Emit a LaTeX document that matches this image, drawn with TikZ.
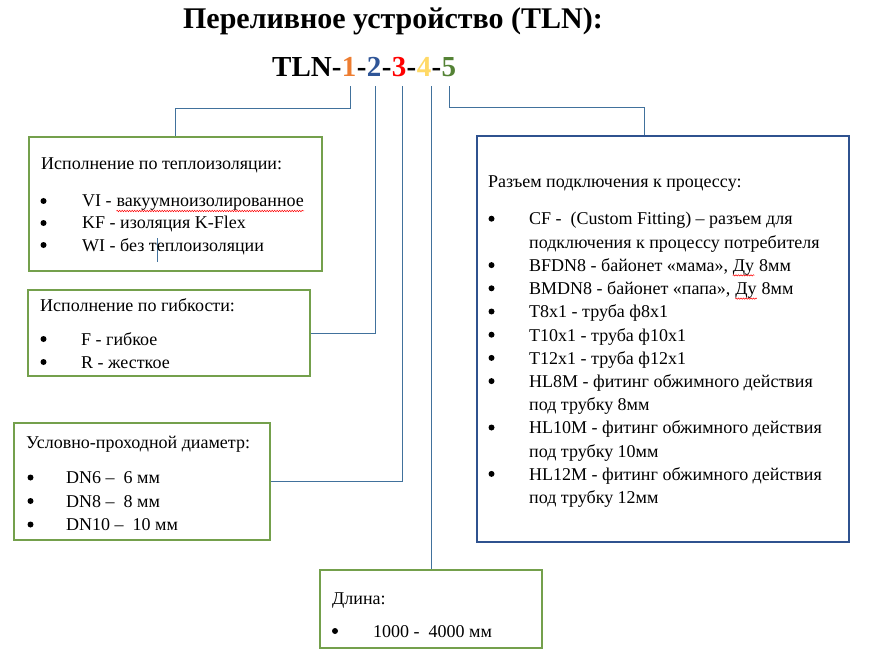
\documentclass[tikz,border=0pt]{standalone}
\usepackage{fontspec}
\setmainfont{Liberation Serif}
\usepackage{xcolor}
\usetikzlibrary{positioning,decorations.pathmorphing}

\definecolor{linkblue}{RGB}{65,113,156}
\definecolor{boxgreen}{RGB}{116,160,76}
\definecolor{boxblue}{RGB}{47,82,143}
\definecolor{digorange}{RGB}{237,125,49}
\definecolor{digblue}{RGB}{47,85,151}
\definecolor{digred}{RGB}{255,0,0}
\definecolor{digyellow}{RGB}{255,217,102}
\definecolor{diggreen}{RGB}{84,130,53}

% red wavy spell-check line
\newcommand\spellwave[1]{\tikz[baseline=(sw.base)]{\node[inner sep=0pt, anchor=base] (sw) {#1};
  \draw[red, line width=0.5pt, decorate, decoration={snake, amplitude=0.7pt, segment length=2.5pt}] ([yshift=-4pt]sw.base west) -- ([yshift=-4pt]sw.base east);}}

\tikzset{
  link/.style={draw=linkblue, line width=0.9pt},
  greenbox/.style={rectangle, draw=boxgreen, line width=2pt, inner sep=0pt},
  bluebox/.style={rectangle, draw=boxblue, line width=2pt, inner sep=0pt},
  txt/.style={anchor=base west, inner sep=0pt, font=\fontsize{18}{21}\selectfont},
  dot/.style={circle, fill=black, inner sep=0pt, minimum size=6pt},
  headline/.style={anchor=base, inner sep=0pt, font=\fontsize{30}{34}\selectfont\bfseries},
  code/.style={anchor=base west, inner sep=0pt, font=\fontsize{29}{33}\selectfont\bfseries}
}

\begin{document}
\begin{tikzpicture}[x=1pt,y=-1pt]
\useasboundingbox (0,0) rectangle (874,668);

% title and code
\node[headline] (title) at (393,29) {Переливное устройство (TLN):};
\node[code] (tln) at (272,77) {TLN-};
\node[code, text=digorange] (d1) at (tln.base east) {1};
\node[code] (s1) at (d1.base east) {-};
\node[code, text=digblue] (d2) at (s1.base east) {2};
\node[code] (s2) at (d2.base east) {-};
\node[code, text=digred] (d3) at (s2.base east) {3};
\node[code] (s3) at (d3.base east) {-};
\node[code, text=digyellow] (d4) at (s3.base east) {4};
\node[code] (s4) at (d4.base east) {-};
\node[code, text=diggreen] (d5) at (s4.base east) {5};

% boxes
\node[greenbox, minimum width=293pt, minimum height=134pt] (box1) at (175.5,204) {};
\node[greenbox, minimum width=282pt, minimum height=86pt] (box2) at (169,333) {};
\node[greenbox, minimum width=256pt, minimum height=117pt] (box3) at (142,481.5) {};
\node[greenbox, minimum width=222pt, minimum height=78pt] (box4) at (431,609) {};
\node[bluebox, minimum width=372pt, minimum height=406pt] (box5) at (663,339) {};

% connectors
\draw[link] ([xshift=1pt,yshift=-9pt]d1.south) -- ++(0,22) -| (box1.north);
\draw[link] ([xshift=1pt,yshift=-9pt]d2.south) |- (box2.east);
\draw[link] ([xshift=3pt,yshift=-9pt]d3.south) |- (box3.east);
\draw[link] ([yshift=-9pt]d4.south east) -- (d4.south east |- box4.north);
\draw[link] ([yshift=-9pt]d5.south) -- ++(0,21) -| ([xshift=-19pt]box5.north);
\coordinate (stubtop) at (157,238);
\coordinate (stubbot) at (157,262);
\draw[link] (stubtop) -- (stubbot);

% box 1
\node[txt] (h1) at (41,170) {Исполнение по теплоизоляции:};
\foreach \row [count=\i] in {VI - \spellwave{вакуумноизолированное}, KF - изоляция K-Flex, WI - без теплоизоляции} {
  \node[dot] (p1-\i) at (43.5,{179+22*\i}) {};
  \node[txt] (r1-\i) at (82,{185+22*\i}) {\row};
}

% box 2
\node[txt] (h2) at (40,311) {Исполнение по гибкости:};
\foreach \row [count=\i] in {F - гибкое, R - жесткое} {
  \node[dot] (p2-\i) at (43.5,{316+23*\i}) {};
  \node[txt] (r2-\i) at (81,{322+23*\i}) {\row};
}

% box 3
\node[txt] (h3) at (26,448) {Условно-проходной диаметр:};
\foreach \row [count=\i] in {DN6 –\ \ 6 мм, DN8 –\ \ 8 мм, DN10 –\ \ 10 мм} {
  \node[dot] (p3-\i) at (30.5,{454+23.5*\i}) {};
  \node[txt] (r3-\i) at (66,{460+23.5*\i}) {\row};
}

% box 4
\node[txt] (h4) at (332,604) {Длина:};
\node[dot] (p4-1) at (335,631) {};
\node[txt] (r4-1) at (373,637) {1000 -\ \ 4000 мм};

% box 5
\node[txt] (h5) at (488,188) {Разъем подключения к процессу:};
\foreach \b/\row [count=\i] in {
  1/{CF -\ \ (Custom Fitting) – разъем для},
  0/{подключения к процессу потребителя},
  1/{BFDN8 - байонет «мама», \spellwave{Ду} 8мм},
  1/{BMDN8 - байонет «папа», \spellwave{Ду} 8мм},
  1/{T8x1 - труба ф8x1},
  1/{T10x1 - труба ф10x1},
  1/{T12x1 - труба ф12x1},
  1/{HL8M - фитинг обжимного действия},
  0/{под трубку 8мм},
  1/{HL10M - фитинг обжимного действия},
  0/{под трубку 10мм},
  1/{HL12M - фитинг обжимного действия},
  0/{под трубку 12мм}} {
  \ifnum\b=1 \node[dot] (p5-\i) at (491.5,{195.5+23.2*\i}) {};\fi
  \node[txt] (r5-\i) at (529,{201.8+23.2*\i}) {\row};
}
\end{tikzpicture}
\end{document}
